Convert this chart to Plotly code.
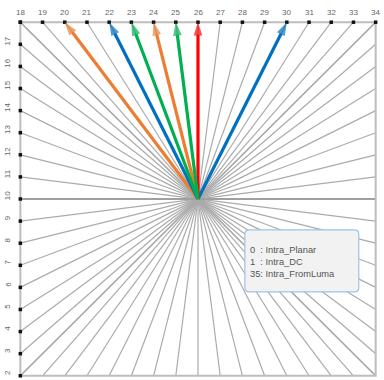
import plotly.graph_objects as go

# ---- data ----
top_modes = list(range(18, 35))            # modes along the top edge (18 .. 34)
left_modes = list(range(18, 1, -1))        # modes along the left edge (18 .. 2)
top_labels = [str(m) for m in top_modes]
left_labels = [str(m) for m in left_modes[1:]]   # 17 .. 2
arrow_modes = [20, 24, 22, 30, 26, 23, 25]
arrow_colors = ["#ED7D31", "#ED7D31", "#0070C0", "#0070C0", "#FF0000", "#00B050", "#00B050"]
legend_lines = ["0  : Intra_Planar", "1  : Intra_DC", "35: Intra_FromLuma"]

HALF = 8  # half the square, in mode steps


def mode_xy(m):
    """Position of an angular mode on the border of the square (centre = 0,0)."""
    if m >= 18:
        return (m - 26, HALF)
    return (-HALF, m - 10)


fig = go.Figure()

# rays through the centre
rx, ry = [], []
for m in top_modes + left_modes:
    x, y = mode_xy(m)
    rx += [x, -x, None]
    ry += [y, -y, None]
fig.add_trace(go.Scatter(x=rx, y=ry, mode="lines",
                         line=dict(color="#ababab", width=1.2),
                         hoverinfo="skip", showlegend=False))
# horizontal mode-10 line a bit heavier
hx, hy = mode_xy(10)
fig.add_trace(go.Scatter(x=[hx, -hx], y=[hy, -hy], mode="lines",
                         line=dict(color="#a0a0a0", width=2),
                         hoverinfo="skip", showlegend=False))

# square border
fig.add_trace(go.Scatter(x=[-HALF, HALF, HALF, -HALF, -HALF],
                         y=[HALF, HALF, -HALF, -HALF, HALF], mode="lines",
                         line=dict(color="#bdbdbd", width=2),
                         hoverinfo="skip", showlegend=False))

# small black dots on the mode positions
dx = [mode_xy(m)[0] for m in top_modes + left_modes]
dy = [mode_xy(m)[1] for m in top_modes + left_modes]
fig.add_trace(go.Scatter(x=dx, y=dy, mode="markers",
                         marker=dict(symbol="square", size=3.5, color="#111111"),
                         cliponaxis=False, hoverinfo="skip", showlegend=False))

# coloured arrows
for m, c in zip(arrow_modes, arrow_colors):
    x, y = mode_xy(m)
    fig.add_trace(go.Scatter(x=[0, x], y=[0, y], mode="lines+markers",
                             line=dict(color=c, width=3.2),
                             marker=dict(symbol=["circle", "arrow"], size=[0, 14],
                                         angleref="previous", color=c,
                                         line=dict(width=0)),
                             cliponaxis=False, hoverinfo="skip", showlegend=False))

annotations = []
for m, t in zip(top_modes, top_labels):
    x, _ = mode_xy(m)
    annotations.append(dict(x=x, y=1.02, xref="x", yref="paper", text=t,
                            yanchor="middle", showarrow=False,
                            font=dict(size=8, color="#666666")))
for m, t in zip(left_modes[1:], left_labels):
    _, y = mode_xy(m)
    annotations.append(dict(x=-0.026, y=y + 0.15, xref="paper", yref="y", text=t,
                            xanchor="center", textangle=-90, showarrow=False,
                            font=dict(size=8, color="#666666")))

# legend box text
annotations.append(dict(x=2.25, y=-2.85, xref="x", yref="y",
                        text="<br>".join(legend_lines), align="left",
                        xanchor="left", yanchor="middle", showarrow=False,
                        font=dict(size=9.3, color="#555555")))

# rounded legend box
bx0, bx1, by0, by1, rr = 2.11, 7.24, -4.2, -1.4, 0.2
box_path = (f"M {bx0+rr},{by1} L {bx1-rr},{by1} Q {bx1},{by1} {bx1},{by1-rr} "
            f"L {bx1},{by0+rr} Q {bx1},{by0} {bx1-rr},{by0} "
            f"L {bx0+rr},{by0} Q {bx0},{by0} {bx0},{by0+rr} "
            f"L {bx0},{by1-rr} Q {bx0},{by1} {bx0+rr},{by1} Z")

fig.update_layout(
    width=384, height=380,
    margin=dict(l=17, r=5, t=20, b=2),
    paper_bgcolor="white", plot_bgcolor="white",
    xaxis=dict(range=[-8.15, 8.15], visible=False, fixedrange=True),
    yaxis=dict(range=[-8.1, 8.1], visible=False, fixedrange=True),
    annotations=annotations,
    shapes=[dict(type="path", xref="x", yref="y", path=box_path,
                 fillcolor="#f2f2f2", line=dict(color="#9dc3e6", width=1.2),
                 layer="above")],
    font=dict(family="Liberation Sans, Arial, sans-serif"),
    hovermode=False,
)

fig.write_html("out.html", config={"displayModeBar": False},
               post_script="document.body.style.margin='0';")
